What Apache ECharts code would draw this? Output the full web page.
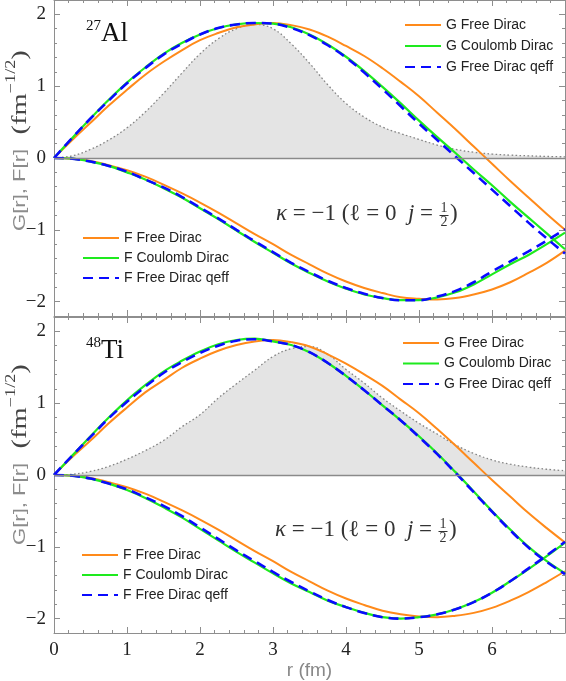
<!DOCTYPE html>
<html>
<head>
<meta charset="utf-8">
<script src="https://cdn.jsdelivr.net/npm/echarts@6/dist/echarts.min.js"></script>
<style>
  html, body { margin: 0; padding: 0; background: #fff; }
  #chart { width: 566px; height: 681px; }
</style>
</head>
<body>
<div id="chart"></div>
<script>
// radius (fm), values read every 0.25 fm off the figure
const rGrid = [0, 0.25, 0.5, 0.75, 1, 1.25, 1.5, 1.75, 2, 2.25, 2.5, 2.75, 3, 3.25, 3.5, 3.75, 4, 4.25, 4.5, 4.75, 5, 5.25, 5.5, 5.75, 6, 6.25, 6.5, 6.75, 7];

// 27Al panel
const gFreeAl = [0, 0.25, 0.49, 0.73, 0.95, 1.16, 1.34, 1.50, 1.64, 1.74, 1.82, 1.86, 1.88, 1.85, 1.79, 1.69, 1.56, 1.42, 1.25, 1.06, 0.86, 0.63, 0.40, 0.16, -0.08, -0.32, -0.55, -0.78, -1.00];
const gCoulAl = [0, 0.28, 0.55, 0.81, 1.05, 1.26, 1.45, 1.60, 1.72, 1.81, 1.86, 1.88, 1.87, 1.82, 1.72, 1.58, 1.41, 1.21, 0.99, 0.76, 0.52, 0.29, 0.07, -0.16, -0.38, -0.61, -0.83, -1.05, -1.27];
const gQeffAl = [0, 0.28, 0.55, 0.80, 1.04, 1.25, 1.44, 1.59, 1.72, 1.81, 1.86, 1.88, 1.87, 1.81, 1.71, 1.57, 1.40, 1.19, 0.96, 0.72, 0.48, 0.25, 0.02, -0.21, -0.44, -0.67, -0.90, -1.12, -1.33];
const fFreeAl = [0, -0.01, -0.04, -0.10, -0.17, -0.26, -0.37, -0.49, -0.62, -0.76, -0.91, -1.06, -1.20, -1.35, -1.48, -1.61, -1.72, -1.81, -1.88, -1.94, -1.96, -1.97, -1.95, -1.90, -1.83, -1.73, -1.60, -1.46, -1.29];
const fCoulAl = [0, -0.01, -0.05, -0.11, -0.20, -0.30, -0.42, -0.55, -0.70, -0.85, -1.01, -1.17, -1.32, -1.47, -1.60, -1.72, -1.82, -1.90, -1.95, -1.98, -1.98, -1.94, -1.87, -1.76, -1.62, -1.48, -1.35, -1.20, -1.04];
const fQeffAl = [0, -0.01, -0.05, -0.11, -0.19, -0.30, -0.41, -0.54, -0.69, -0.84, -1.00, -1.16, -1.31, -1.46, -1.59, -1.71, -1.81, -1.89, -1.95, -1.98, -1.98, -1.93, -1.85, -1.73, -1.58, -1.44, -1.30, -1.15, -0.99];
const rhoAl = [0, 0.03, 0.12, 0.25, 0.42, 0.64, 0.90, 1.18, 1.45, 1.66, 1.80, 1.86, 1.80, 1.59, 1.32, 1.02, 0.76, 0.57, 0.43, 0.34, 0.26, 0.18, 0.12, 0.08, 0.055, 0.04, 0.03, 0.022, 0.016];

// 48Ti panel
const gFreeTi = [0, 0.25, 0.48, 0.72, 0.94, 1.15, 1.32, 1.49, 1.62, 1.73, 1.81, 1.86, 1.88, 1.85, 1.79, 1.68, 1.55, 1.40, 1.24, 1.05, 0.86, 0.64, 0.41, 0.17, -0.07, -0.30, -0.53, -0.74, -0.94];
const gCoulTi = [0, 0.27, 0.54, 0.80, 1.04, 1.25, 1.44, 1.59, 1.72, 1.82, 1.88, 1.90, 1.86, 1.81, 1.71, 1.56, 1.38, 1.18, 0.97, 0.76, 0.54, 0.30, 0.04, -0.23, -0.50, -0.76, -1.00, -1.20, -1.37];
const gQeffTi = [0, 0.27, 0.53, 0.79, 1.02, 1.23, 1.42, 1.57, 1.70, 1.80, 1.87, 1.89, 1.86, 1.81, 1.71, 1.56, 1.38, 1.18, 0.97, 0.76, 0.53, 0.29, 0.03, -0.24, -0.51, -0.77, -1.01, -1.21, -1.38];
const fFreeTi = [0, -0.01, -0.04, -0.10, -0.17, -0.26, -0.37, -0.49, -0.62, -0.76, -0.91, -1.06, -1.20, -1.35, -1.48, -1.61, -1.72, -1.81, -1.89, -1.94, -1.97, -1.98, -1.96, -1.92, -1.85, -1.75, -1.63, -1.49, -1.34];
const fCoulTi = [0, -0.01, -0.05, -0.12, -0.21, -0.32, -0.45, -0.59, -0.75, -0.91, -1.07, -1.22, -1.37, -1.51, -1.63, -1.75, -1.84, -1.92, -1.98, -2.00, -1.98, -1.94, -1.87, -1.77, -1.64, -1.48, -1.31, -1.13, -0.94];
const fQeffTi = [0, -0.01, -0.05, -0.12, -0.20, -0.31, -0.43, -0.57, -0.73, -0.89, -1.05, -1.20, -1.35, -1.49, -1.62, -1.74, -1.84, -1.92, -1.98, -2.00, -1.98, -1.94, -1.87, -1.77, -1.64, -1.48, -1.30, -1.12, -0.93];
const rhoTi = [0, 0.01, 0.05, 0.12, 0.22, 0.34, 0.48, 0.67, 0.84, 1.07, 1.27, 1.46, 1.65, 1.76, 1.79, 1.68, 1.47, 1.28, 1.07, 0.89, 0.72, 0.57, 0.42, 0.30, 0.21, 0.15, 0.11, 0.08, 0.06];

const gNames = ['G Free Dirac', 'G Coulomb Dirac', 'G Free Dirac qeff'];
const fNames = ['F Free Dirac', 'F Coulomb Dirac', 'F Free Dirac qeff'];

const SERIF = "'Liberation Serif', 'DejaVu Serif', serif";
const SANS = "'Liberation Sans', Arial, sans-serif";
const FRAME = '#8e8e8e';

const styles = [
  { color: '#ff8a1a', width: 2, type: 'solid' },
  { color: '#1eea1e', width: 2.2, type: 'solid' },
  { color: '#0a0aff', width: 2.6, type: [10, 6] },
];

const zip = (xs, ys) => xs.map((x, i) => [x, ys[i]]);

function curve(name, vals, st, gi) {
  return {
    name, type: 'line', xAxisIndex: gi * 2, yAxisIndex: gi * 2,
    data: zip(rGrid, vals), smooth: 0.4, symbol: 'none', silent: true,
    lineStyle: { color: st.color, width: st.width, type: st.type },
    itemStyle: { color: st.color }, z: 3,
  };
}

function density(vals, gi) {
  return {
    name: 'rho' + gi, type: 'line', xAxisIndex: gi * 2, yAxisIndex: gi * 2,
    data: zip(rGrid, vals), smooth: 0.4, symbol: 'none', silent: true, z: 1,
    lineStyle: { color: '#858585', width: 1.3, type: [1.6, 2.4] },
    areaStyle: { color: '#e4e4e4', opacity: 1 },
    markLine: {
      silent: true, symbol: 'none', label: { show: false }, animation: false,
      lineStyle: { color: '#8a8a8a', width: 1.3, type: 'solid' },
      data: [{ yAxis: 0 }],
    },
  };
}

const tickStyle = { lineStyle: { color: FRAME, width: 1 } };
function xAxis(gi, pos, labels) {
  return {
    type: 'value', gridIndex: gi, position: pos, min: 0, max: 7, interval: 1,
    axisLine: { show: true, onZero: false, lineStyle: { color: FRAME, width: 1 } },
    axisTick: { show: true, inside: true, length: 6, ...tickStyle },
    minorTick: { show: true, splitNumber: 5, length: 3, ...tickStyle },
    splitLine: { show: false }, minorSplitLine: { show: false },
    axisLabel: { show: labels, showMaxLabel: false, margin: 8, fontFamily: SERIF, fontSize: 19, color: '#222' },
    name: labels ? 'r (fm)' : '', nameLocation: 'middle', nameGap: 22,
    nameTextStyle: { fontFamily: SANS, fontSize: 19, color: '#888' },
  };
}
function yAxis(gi, pos, labels) {
  return {
    type: 'value', gridIndex: gi, position: pos, min: -2.2, max: 2.2,
    axisLine: { show: true, onZero: false, lineStyle: { color: FRAME, width: 1 } },
    axisTick: { show: true, inside: true, length: 6, ...tickStyle },
    minorTick: { show: true, splitNumber: 5, length: 3, ...tickStyle },
    splitLine: { show: false }, minorSplitLine: { show: false },
    axisLabel: {
      show: labels, margin: 8, fontFamily: SERIF, fontSize: 19, color: '#222',
      formatter: (v) => Math.abs(v - Math.round(v)) > 1e-6 ? '' : (v < 0 ? '\u2212' + (-v) : String(v)),
    },
  };
}

function legend(names, left, top, gap) {
  return {
    data: names, orient: 'vertical', left, top, padding: 0, itemGap: gap,
    itemWidth: 36, itemHeight: 14, selectedMode: false,
    itemStyle: { opacity: 0 },
    textStyle: { fontFamily: SANS, fontSize: 14, color: '#222' },
  };
}

// lay out a run of text pieces left to right (measured on a canvas)
const mctx = document.createElement('canvas').getContext('2d');
function fontOf(p) { return (p.it ? 'italic ' : '') + p.s + 'px ' + (p.f || SERIF); }
function run(x, y, parts, align) {
  const ws = parts.map((p) => { mctx.font = fontOf(p); return mctx.measureText(p.t).width; });
  const total = ws.reduce((a, b) => a + b, 0);
  let cx = align === 'right' ? x - total : align === 'center' ? x - total / 2 : x;
  return parts.map((p, i) => {
    const el = {
      type: 'text', x: cx, y: y + (p.dy || 0), silent: true,
      style: { text: p.t, font: fontOf(p), fill: p.c || '#333', align: 'left', textAlign: 'left', verticalAlign: 'middle', textVerticalAlign: 'middle' },
    };
    cx += ws[i];
    return el;
  });
}

// rotated y title, stretched along its length like the original
function yName(bottomY) {
  return {
    type: 'group', x: 20, y: bottomY, rotation: Math.PI / 2, scaleX: 1.3, silent: true,
    children: run(0, 0, [
      { t: 'G[r], F[r]', s: 17, f: SANS, c: '#8c8c8c' },
      { t: '  (fm', s: 22, c: '#444' },
      { t: '\u22121/2', s: 14, dy: -9, c: '#444' },
      { t: ')', s: 22, c: '#444' },
    ]),
  };
}

function kappa(dx, dy) {
  const y = 214 + dy;
  const els = run(433 + dx, y, [
    { t: '\u03ba', s: 23, it: true },
    { t: ' = \u22121 (\u2113 = 0  ', s: 23 },
    { t: 'j', s: 23, it: true },
    { t: ' =', s: 23 },
  ], 'right');
  const fx = 444 + dx;
  els.push(
    { type: 'text', x: fx, y: y - 6, silent: true, style: { text: '1', font: '14px ' + SERIF, fill: '#333', align: 'center', textAlign: 'center', verticalAlign: 'middle', textVerticalAlign: 'middle' } },
    { type: 'line', silent: true, shape: { x1: fx - 4.5, y1: y + 1.5, x2: fx + 4.5, y2: y + 1.5 }, style: { stroke: '#333', lineWidth: 1 } },
    { type: 'text', x: fx, y: y + 8.5, silent: true, style: { text: '2', font: '14px ' + SERIF, fill: '#333', align: 'center', textAlign: 'center', verticalAlign: 'middle', textVerticalAlign: 'middle' } },
  );
  return els.concat(run(450 + dx, y, [{ t: ')', s: 23 }]));
}

function rhoLabel(x, y) {
  return run(x, y, [
    { t: 'r', s: 26, it: true },
    { t: '2', s: 16, dy: -9 },
    { t: '\u03c1(', s: 26, it: true },
    { t: 'r', s: 26, it: true },
    { t: ')', s: 26 },
  ]);
}

function nucleus(x, y, mass, sym) {
  return run(x, y, [
    { t: mass, s: 15, dy: -8, c: '#111' },
    { t: sym, s: 27, c: '#111' },
  ]);
}

const graphics = [].concat(
  [yName(231), yName(545)],
  nucleus(86, 34, '27', 'Al'),
  nucleus(86, 351, '48', 'Ti'),
  rhoLabel(236, 94),
  rhoLabel(292, 420),
  kappa(0, 0),
  kappa(-1, 316),
);

const chart = echarts.init(document.getElementById('chart'), null, { renderer: 'canvas' });
chart.setOption({
  animation: false,
  backgroundColor: '#fff',
  grid: [
    { left: 54, right: 1, top: 0, height: 316, outerBoundsMode: 'none' },
    { left: 54, right: 1, top: 317, height: 316, outerBoundsMode: 'none' },
  ],
  xAxis: [xAxis(0, 'bottom', false), xAxis(0, 'top', false), xAxis(1, 'bottom', true), xAxis(1, 'top', false)],
  yAxis: [yAxis(0, 'left', true), yAxis(0, 'right', false), yAxis(1, 'left', true), yAxis(1, 'right', false)],
  legend: [
    legend(gNames, 404, 18, 7),
    legend(fNames, 82, 231, 6),
    legend(gNames, 402, 336, 6.5),
    legend(fNames, 81, 548, 6),
  ],
  graphic: { elements: graphics },
  series: [
    density(rhoAl, 0),
    curve(gNames[0], gFreeAl, styles[0], 0),
    curve(fNames[0], fFreeAl, styles[0], 0),
    curve(gNames[1], gCoulAl, styles[1], 0),
    curve(fNames[1], fCoulAl, styles[1], 0),
    curve(gNames[2], gQeffAl, styles[2], 0),
    curve(fNames[2], fQeffAl, styles[2], 0),
    density(rhoTi, 1),
    curve(gNames[0], gFreeTi, styles[0], 1),
    curve(fNames[0], fFreeTi, styles[0], 1),
    curve(gNames[1], gCoulTi, styles[1], 1),
    curve(fNames[1], fCoulTi, styles[1], 1),
    curve(gNames[2], gQeffTi, styles[2], 1),
    curve(fNames[2], fQeffTi, styles[2], 1),
  ],
});
</script>
</body>
</html>
